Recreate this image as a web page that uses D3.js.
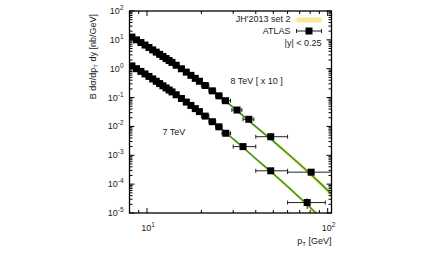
<!DOCTYPE html>
<html>
<head>
<meta charset="utf-8">
<script src="https://cdn.jsdelivr.net/npm/d3@7"></script>
<style>
  body { margin: 0; background: #fff; }
  svg { font-family: "Liberation Sans", Arial, sans-serif; }
</style>
</head>
<body>
<svg class="chart"></svg>
<script>

// ATLAS 8 TeV (scaled x 10)
let pt8 = [8.25, 8.75, 9.25, 9.75, 10.25, 10.75, 11.25, 11.75, 12.25, 12.75, 13.25, 13.75, 14.5, 15.5, 16.5, 17.5, 18.5, 19.5, 21, 23, 25, 27.2, 31.5, 36.6, 48.4, 81]
let binLo8 = [8, 8.5, 9, 9.5, 10, 10.5, 11, 11.5, 12, 12.5, 13, 13.5, 14, 15, 16, 17, 18, 19, 20, 22, 24, 26, 29.5, 34, 40, 60]
let binHi8 = [8.5, 9, 9.5, 10, 10.5, 11, 11.5, 12, 12.5, 13, 13.5, 14, 15, 16, 17, 18, 19, 20, 22, 24, 26, 29, 33.5, 39, 60, 110]
let val8 = [12.5, 10.0, 8.07, 6.6, 5.44, 4.49, 3.75, 3.15, 2.66, 2.25, 1.92, 1.65, 1.32, 0.997, 0.76, 0.589, 0.463, 0.368, 0.262, 0.171, 0.115, 0.078, 0.037, 0.0177, 0.0044, 0.00026]
let err8 = [0, 0, 0, 0, 0, 0, 0, 0, 0, 0, 0, 0, 0, 0, 0, 0, 0, 0, 0, 0, 0, 0.03, 0.04, 0.05, 0.08, 0.15]

// ATLAS 7 TeV
let pt7 = [8.25, 8.75, 9.25, 9.75, 10.25, 10.75, 11.25, 11.75, 12.25, 12.75, 13.25, 13.75, 14.5, 15.5, 16.5, 17.5, 18.5, 19.5, 21, 23, 25, 27.3, 34, 48.4, 77]
let binLo7 = [8, 8.5, 9, 9.5, 10, 10.5, 11, 11.5, 12, 12.5, 13, 13.5, 14, 15, 16, 17, 18, 19, 20, 22, 24, 26, 30, 40, 60]
let binHi7 = [8.5, 9, 9.5, 10, 10.5, 11, 11.5, 12, 12.5, 13, 13.5, 14, 15, 16, 17, 18, 19, 20, 22, 24, 26, 29, 40, 60, 97]
let val7 = [1.25, 1.0, 0.807, 0.66, 0.541, 0.443, 0.367, 0.306, 0.256, 0.216, 0.183, 0.157, 0.125, 0.093, 0.0699, 0.0534, 0.0414, 0.0326, 0.0228, 0.0146, 0.0097, 0.0058, 0.002, 0.00029, 0.000023]
let err7 = [0, 0, 0, 0, 0, 0, 0, 0, 0, 0, 0, 0, 0, 0, 0, 0, 0, 0, 0, 0, 0, 0.03, 0.05, 0.1, 0.4]

// JH'2013 set 2 prediction
let thPt = [8, 10, 12, 15, 20, 25, 30, 40, 50, 60, 70, 80, 90, 105]
let th8 = [14, 6.0, 2.9, 1.15, 0.33, 0.115, 0.046, 0.0098, 0.0031, 0.00115, 0.00049, 0.00023, 0.000115, 0.000045]
let th8Lo = [13.4, 5.76, 2.76, 1.09, 0.31, 0.105, 0.041, 0.0086, 0.0026, 0.00095, 0.0004, 0.000185, 0.000091, 0.000035]
let th8Hi = [14.6, 6.24, 3.05, 1.21, 0.35, 0.125, 0.051, 0.011, 0.0036, 0.00135, 0.00058, 0.00028, 0.00014, 0.000056]
let th7 = [1.4, 0.6, 0.28, 0.108, 0.029, 0.0097, 0.0037, 0.00076, 0.00023, 0.000083, 0.000034, 0.0000155, 0.0000076, 0.0000029]
let th7Lo = [1.34, 0.576, 0.266, 0.103, 0.0272, 0.0088, 0.0033, 0.00067, 0.000197, 0.00007, 0.0000285, 0.0000127, 0.0000061, 0.0000023]
let th7Hi = [1.46, 0.624, 0.294, 0.113, 0.0308, 0.0106, 0.0041, 0.00085, 0.000263, 0.000097, 0.00004, 0.0000185, 0.0000092, 0.0000036]

let yTicks = [1e-5, 1e-4, 1e-3, 1e-2, 1e-1, 1, 10, 100]
let yExp = ["-5", "-4", "-3", "-2", "-1", "0", "1", "2"]
let xTicks = [10, 100]
let xExp = ["1", "2"]
let xMinor = [8, 9, 20, 30, 40, 50, 60, 70, 80, 90]

let margin = { top: 11, right: 99.5, bottom: 45, left: 129.5 }
let width = 431 - margin.left - margin.right
let height = 258 - margin.top - margin.bottom

let x = d3.scaleLog().domain([8, 105]).range([0, width])
let y = d3.scaleLog().domain([1e-5, 100]).range([height, 0])

let root = d3.select(".chart")
    .attr("width", 431)
    .attr("height", 258)

let svg = root.append("g")
    .attr("transform", "translate(" + margin.left + "," + margin.top + ")")

svg.append("clipPath").attr("id", "clip")
  .append("rect").attr("width", width).attr("height", height)

let plot = svg.append("g").attr("clip-path", "url(#clip)")

function band(lo, hi) {
  return d3.area()
    .curve(d3.curveMonotoneX)
    .x(function(d, i) { return x(thPt[i]) })
    .y0(function(d, i) { return y(lo[i]) })
    .y1(function(d, i) { return y(hi[i]) })(thPt)
}

function line(mid) {
  return d3.line()
    .curve(d3.curveMonotoneX)
    .x(function(d, i) { return x(thPt[i]) })
    .y(function(d, i) { return y(mid[i]) })(thPt)
}

let bandColor = "#fae897"
let lineColor = "#2c9226"

plot.append("path").attr("d", band(th8Lo, th8Hi)).attr("fill", bandColor)
plot.append("path").attr("d", band(th7Lo, th7Hi)).attr("fill", bandColor)
plot.append("path").attr("d", line(th8)).attr("fill", "none").attr("stroke", lineColor).attr("stroke-width", 1.5)
plot.append("path").attr("d", line(th7)).attr("fill", "none").attr("stroke", lineColor).attr("stroke-width", 1.5)

function drawPoints(pt, lo, hi, val, err) {
  let g = plot.append("g")
  pt.forEach(function(p, i) {
    let cy = y(val[i])
    g.append("line")
      .attr("x1", x(lo[i])).attr("x2", x(hi[i]))
      .attr("y1", cy).attr("y2", cy)
      .attr("stroke", "#222").attr("stroke-width", 1)
    ;[lo[i], hi[i]].forEach(function(b) {
      g.append("line")
        .attr("x1", x(b)).attr("x2", x(b))
        .attr("y1", cy - 2).attr("y2", cy + 2)
        .attr("stroke", "#222").attr("stroke-width", 1)
    })
    if (err[i] > 0) {
      g.append("line")
        .attr("x1", x(p)).attr("x2", x(p))
        .attr("y1", y(val[i] * (1 + err[i]))).attr("y2", y(val[i] * (1 - err[i])))
        .attr("stroke", "#222").attr("stroke-width", 1)
    }
  })
  g.selectAll("rect.pt").data(pt).enter().append("rect")
    .attr("class", "pt")
    .attr("x", function(d) { return x(d) - 3.5 })
    .attr("y", function(d, i) { return y(val[i]) - 3.5 })
    .attr("width", 7).attr("height", 7)
    .attr("fill", "#000")
}

drawPoints(pt8, binLo8, binHi8, val8, err8)
drawPoints(pt7, binLo7, binHi7, val7, err7)

// frame and ticks
svg.append("rect")
    .attr("width", width).attr("height", height)
    .attr("fill", "none").attr("stroke", "#000").attr("stroke-width", 1.3)

let ticks = svg.append("g").attr("stroke", "#000").attr("stroke-width", 1)

yTicks.forEach(function(t, k) {
  let ty = y(t)
  ticks.append("line").attr("x1", 0).attr("x2", 5).attr("y1", ty).attr("y2", ty)
  ticks.append("line").attr("x1", width).attr("x2", width - 5).attr("y1", ty).attr("y2", ty)
  if (k < yTicks.length - 1) {
    d3.range(2, 10).forEach(function(m) {
      let my = y(t * m)
      ticks.append("line").attr("x1", 0).attr("x2", 3).attr("y1", my).attr("y2", my)
      ticks.append("line").attr("x1", width).attr("x2", width - 3).attr("y1", my).attr("y2", my)
    })
  }
})

xTicks.forEach(function(t) {
  ticks.append("line").attr("x1", x(t)).attr("x2", x(t)).attr("y1", height).attr("y2", height - 5)
  ticks.append("line").attr("x1", x(t)).attr("x2", x(t)).attr("y1", 0).attr("y2", 5)
})
xMinor.forEach(function(t) {
  ticks.append("line").attr("x1", x(t)).attr("x2", x(t)).attr("y1", height).attr("y2", height - 3)
  ticks.append("line").attr("x1", x(t)).attr("x2", x(t)).attr("y1", 0).attr("y2", 3)
})

// tick labels
yTicks.forEach(function(t, k) {
  let tx = svg.append("text")
    .attr("x", -6).attr("y", y(t) + 3)
    .attr("text-anchor", "end")
    .attr("font-size", 9).attr("fill", "#222")
  tx.append("tspan").text("10")
  tx.append("tspan").attr("dy", -4).attr("font-size", 6.5).text(yExp[k])
})

xTicks.forEach(function(t, k) {
  let tx = svg.append("text")
    .attr("x", x(t) + 1).attr("y", height + 18)
    .attr("text-anchor", "middle")
    .attr("font-size", 9).attr("fill", "#222")
  tx.append("tspan").text("10")
  tx.append("tspan").attr("dy", -4).attr("font-size", 6.5).text(xExp[k])
})

// axis titles
let xt = svg.append("text")
    .attr("x", width).attr("y", height + 31)
    .attr("text-anchor", "end")
    .attr("font-size", 9).attr("fill", "#222")
xt.append("tspan").text("p")
xt.append("tspan").attr("dy", 2).attr("font-size", 6).text("T")
xt.append("tspan").attr("dy", -2).text(" [GeV]")

let yt = svg.append("text")
    .attr("transform", "translate(" + (-34) + ",3) rotate(-90)")
    .attr("text-anchor", "end")
    .attr("font-size", 9).attr("fill", "#222")
yt.append("tspan").text("B dσ/dp")
yt.append("tspan").attr("dy", 2).attr("font-size", 6).text("T")
yt.append("tspan").attr("dy", -2).text(" dy [nb/GeV]")

// annotations
svg.append("text").attr("x", 101).attr("y", 73)
    .attr("font-size", 9).attr("fill", "#222").text("8 TeV [ x 10 ]")
svg.append("text").attr("x", 33).attr("y", 124)
    .attr("font-size", 9).attr("fill", "#222").text("7 TeV")

// legend
let leg = svg.append("g")
leg.append("text").attr("x", 161).attr("y", 11)
    .attr("text-anchor", "end").attr("font-size", 9).attr("fill", "#222").text("JH'2013 set 2")
leg.append("rect").attr("x", 167).attr("y", 6.5).attr("width", 25).attr("height", 5).attr("fill", bandColor)
leg.append("text").attr("x", 161).attr("y", 23)
    .attr("text-anchor", "end").attr("font-size", 9).attr("fill", "#222").text("ATLAS")
leg.append("line").attr("x1", 167).attr("x2", 192).attr("y1", 20).attr("y2", 20).attr("stroke", "#222")
leg.append("line").attr("x1", 167).attr("x2", 167).attr("y1", 18).attr("y2", 22).attr("stroke", "#222")
leg.append("line").attr("x1", 192).attr("x2", 192).attr("y1", 18).attr("y2", 22).attr("stroke", "#222")
leg.append("rect").attr("x", 176).attr("y", 16.5).attr("width", 7).attr("height", 7).attr("fill", "#000")
leg.append("text").attr("x", 192).attr("y", 35)
    .attr("text-anchor", "end").attr("font-size", 9).attr("fill", "#222").text("|y| < 0.25")

</script>
</body>
</html>
